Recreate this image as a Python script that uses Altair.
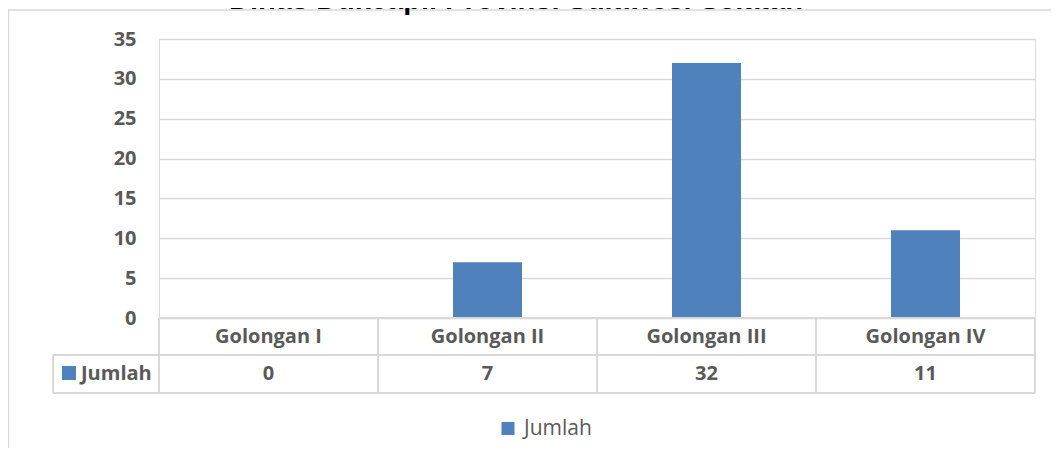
import altair as alt
import pandas as pd

# ---- data ----
categories = ["Golongan I", "Golongan II", "Golongan III", "Golongan IV"]
values = [0, 7, 32, 11]
series_name = "Jumlah"
y_ticks = [0, 5, 10, 15, 20, 25, 30, 35]
title_text = "Dinas Dukcapil Provinsi Sulawesi Selatan"

df = pd.DataFrame({"cat": categories, "val": values, "series": [series_name] * len(categories)})
one = pd.DataFrame({"k": [0]})

# ---- style ----
W, H = 876, 279
BLUE = "#4f81bd"
GRID = "#d9d9d9"
TXT = "#595959"
FONT = "Open Sans"

def xenc(bp=None):
    kw = dict(sort=categories, scale=alt.Scale(paddingInner=0, paddingOuter=0), axis=None)
    if bp is not None:
        kw["bandPosition"] = bp
    return alt.X("cat:N", **kw)

bars = alt.Chart(df).mark_bar(width=alt.RelativeBandSize(0.315)).encode(
    x=xenc(),
    y=alt.Y("val:Q", scale=alt.Scale(domain=[0, 35], nice=False),
            axis=alt.Axis(values=y_ticks, grid=True, gridColor=GRID, gridWidth=1.5,
                          domain=False, ticks=False, labelPadding=23,
                          labelFont=FONT, labelFontSize=20, labelFontWeight="bold",
                          labelColor=TXT, title=None)),
    color=alt.Color("series:N", scale=alt.Scale(range=[BLUE]),
                    legend=alt.Legend(orient="none", legendX=338.5, legendY=379,
                                      title=None, symbolType="square", symbolSize=169,
                                      symbolStrokeWidth=0, padding=0, labelOffset=5.5,
                                      labelFont=FONT, labelFontSize=21, labelColor=TXT)),
)

# table vertical lines (band edges)
vlines = alt.Chart(df).mark_rule(color=GRID, strokeWidth=2).encode(
    x=xenc(0), y=alt.value(H), y2=alt.value(354))
vline_last = alt.Chart(df).transform_filter(alt.datum.cat == categories[-1]).mark_rule(
    color=GRID, strokeWidth=2).encode(x=xenc(1), y=alt.value(H), y2=alt.value(354))
vline_left = alt.Chart(one).mark_rule(color=GRID, strokeWidth=2).encode(
    x=alt.value(-106), y=alt.value(316), y2=alt.value(354))

# table horizontal lines
h1 = alt.Chart(one).mark_rule(color=GRID, strokeWidth=2).encode(
    x=alt.value(0), x2=alt.value(W), y=alt.value(H))
h2 = alt.Chart(one).mark_rule(color=GRID, strokeWidth=2).encode(
    x=alt.value(-106), x2=alt.value(W), y=alt.value(316))
h3 = alt.Chart(one).mark_rule(color=GRID, strokeWidth=2).encode(
    x=alt.value(-106), x2=alt.value(W), y=alt.value(354))

# header labels
headers = alt.Chart(df).mark_text(font=FONT, fontSize=20, fontWeight="bold", color=TXT,
                                  baseline="middle").encode(
    x=xenc(), y=alt.value(298), text="cat:N")
# values
vals_txt = alt.Chart(df).mark_text(font=FONT, fontSize=20, fontWeight="bold", color=TXT,
                                   baseline="middle").encode(
    x=xenc(), y=alt.value(335), text="val:Q")

# row key
row_swatch = alt.Chart(pd.DataFrame({"series": [series_name]})).mark_point(
    shape="square", filled=True, size=196, color=BLUE, opacity=1).encode(
    x=alt.value(-90), y=alt.value(334))
row_label = alt.Chart(pd.DataFrame({"series": [series_name]})).mark_text(
    font=FONT, fontSize=20, fontWeight="bold", color=TXT, align="left",
    baseline="middle").encode(x=alt.value(-78), y=alt.value(335), text="series:N")

# chart border
border_left = alt.Chart(one).mark_rule(color=GRID, strokeWidth=1.5).encode(
    x=alt.value(-150.5), y=alt.value(-29), y2=alt.value(420))
border_top = alt.Chart(one).mark_rule(color=GRID, strokeWidth=1.5).encode(
    x=alt.value(-151), x2=alt.value(W + 20), y=alt.value(-29))

# title (cut off at the top, as in the reference)
title = alt.Chart(pd.DataFrame({"t": [title_text]})).mark_text(
    font="Liberation Sans", fontSize=29, fontWeight="bold", color="#000000",
    baseline="alphabetic", align="center").encode(
    x=alt.value(357), y=alt.value(-30), text="t:N")

chart = alt.layer(
    border_left, border_top, title,
    bars, vlines, vline_last, vline_left, h1, h2, h3,
    headers, vals_txt, row_swatch, row_label,
).properties(
    width=W, height=H,
    autosize=alt.AutoSizeParams(type="none"),
    padding={"left": 151, "top": 31, "right": 16, "bottom": 130},
).configure_view(stroke=None).configure(background="white")

chart.save("out.html", embed_options={"renderer": "svg", "actions": False})
